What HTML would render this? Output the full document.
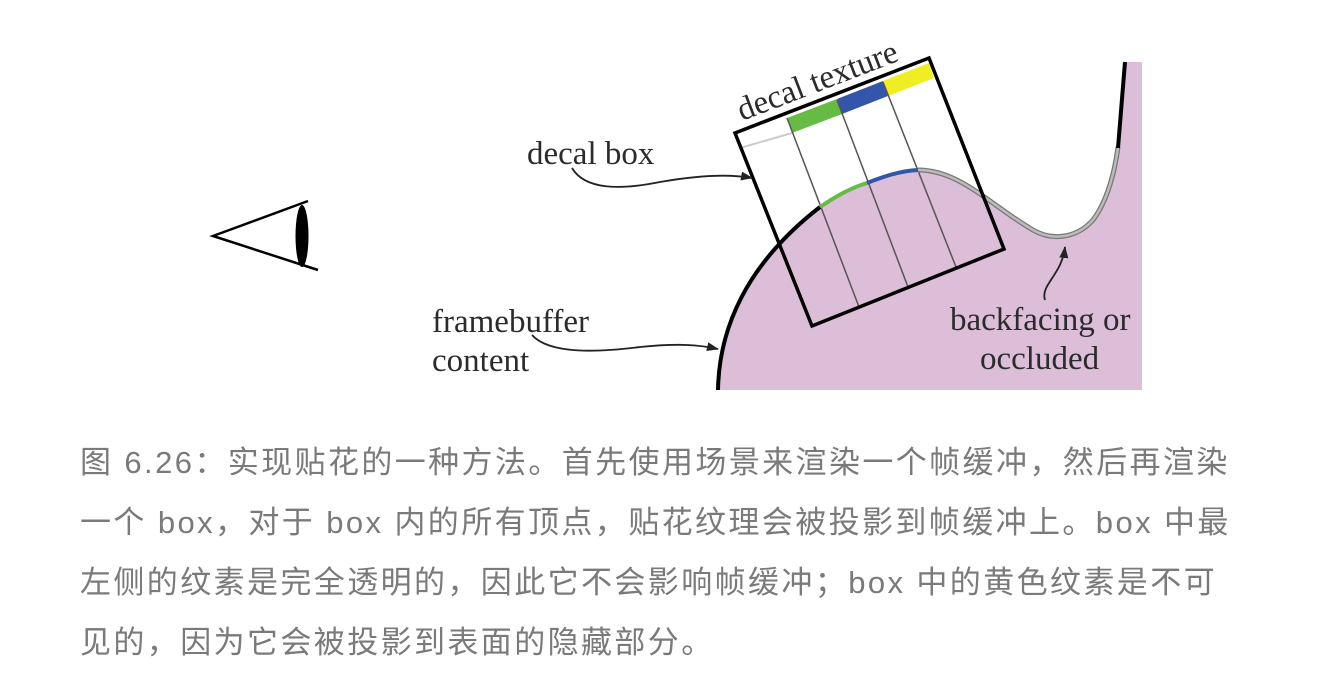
<!DOCTYPE html>
<html><head><meta charset="utf-8"><style>
html,body{margin:0;padding:0;background:#fff;width:1318px;height:693px;overflow:hidden}
svg{position:absolute;left:0;top:0}
.cap{position:absolute;left:80px;top:433px;font-family:"Liberation Sans","Noto Sans CJK SC",sans-serif;font-size:31px;letter-spacing:2.4px;line-height:60px;color:#7a7a7a;white-space:nowrap}
.t{font-family:"Liberation Serif",serif;font-size:33px;fill:#2b2b2b}
</style></head><body>
<svg width="1318" height="693" viewBox="0 0 1318 693">
<defs><marker id="a" markerWidth="12" markerHeight="9" refX="11" refY="4.5" orient="auto" markerUnits="userSpaceOnUse"><path d="M0,0 L12,4.5 L0,9 Z" fill="#222"/></marker></defs>
<path d="M718,390 C719,330 745,265 820,207 C850,190 880,172 918,170 C960,170 990,205 1033,230 C1050,240 1075,240 1093,220 C1108,200 1115,170 1118,147 L1125,62 L1142,62 L1142,390 Z" fill="#dcbed9"/>
<clipPath id="bx"><polygon points="735,133 929,58 1004,249 812,326"/></clipPath>
<g clip-path="url(#bx)">
<rect x="700" y="40" width="320" height="300" fill="#fff"/>
<path d="M718,390 C719,330 745,265 820,207 C850,190 880,172 918,170 C960,170 990,205 1033,230 C1050,240 1075,240 1093,220 C1108,200 1115,170 1118,147 L1125,62 L1142,62 L1142,390 Z" fill="#dcbed9"/>
<polygon points="787,118 837,99 842,114 792,133" fill="#66bb44"/>
<polygon points="837,99 883,81 888,96 842,114" fill="#3355aa"/>
<polygon points="883,81 929,63 934,78 888,96" fill="#eeee22"/>
<line x1="740" y1="148" x2="792" y2="133" stroke="#ccc" stroke-width="2"/>
<line x1="787" y1="118" x2="859" y2="307" stroke="#555" stroke-width="1.5"/>
<line x1="837" y1="100" x2="908" y2="287" stroke="#555" stroke-width="1.5"/>
<line x1="883" y1="82" x2="956" y2="267" stroke="#555" stroke-width="1.5"/>
</g>
<path d="M718,390 C719,330 745,265 820,207" fill="none" stroke="#000" stroke-width="4"/>
<path d="M820,207 C835,197 850,188 867,183" fill="none" stroke="#66bb44" stroke-width="4"/>
<path d="M867,183 C885,176 900,171 918,170" fill="none" stroke="#3355aa" stroke-width="4"/>
<path d="M918,170 C960,170 990,205 1033,230 C1050,240 1075,240 1093,220 C1108,200 1115,170 1118,147" fill="none" stroke="#777" stroke-width="5"/>
<path d="M918,170 C960,170 990,205 1033,230 C1050,240 1075,240 1093,220 C1108,200 1115,170 1118,147" fill="none" stroke="#bbb" stroke-width="2.5"/>
<path d="M1118,148 L1125,62" stroke="#000" stroke-width="4"/>
<polygon points="735,133 929,58 1004,249 812,326" fill="none" stroke="#000" stroke-width="3.5"/>
<polyline points="308,201 213,236 318,270" fill="none" stroke="#000" stroke-width="2.5"/>
<ellipse cx="302" cy="236" rx="6.5" ry="31" fill="#000"/>
<path d="M572,168 C585,190 620,190 660,182 C700,175 730,174 752,178" fill="none" stroke="#222" stroke-width="1.8" marker-end="url(#a)"/>
<path d="M532,335 C550,355 600,352 640,347 C680,343 700,345 718,349" fill="none" stroke="#222" stroke-width="1.8" marker-end="url(#a)"/>
<path d="M1045,300 C1040,285 1062,275 1065,247" fill="none" stroke="#222" stroke-width="1.8" marker-end="url(#a)"/>
<text class="t" x="527" y="164">decal box</text>
<text class="t" x="432" y="332">framebuffer</text>
<text class="t" x="432" y="371">content</text>
<text class="t" x="950" y="330">backfacing or</text>
<text class="t" x="980" y="369">occluded</text>
<text class="t" x="0" y="0" transform="translate(742,121) rotate(-21)">decal texture</text>
</svg>
<div class="cap">图 6.26：实现贴花的一种方法。首先使用场景来渲染一个帧缓冲，然后再渲染<br>一个 box，对于 box 内的所有顶点，贴花纹理会被投影到帧缓冲上。box 中最<br>左侧的纹素是完全透明的，因此它不会影响帧缓冲；box 中的黄色纹素是不可<br>见的，因为它会被投影到表面的隐藏部分。</div>
</body></html>
